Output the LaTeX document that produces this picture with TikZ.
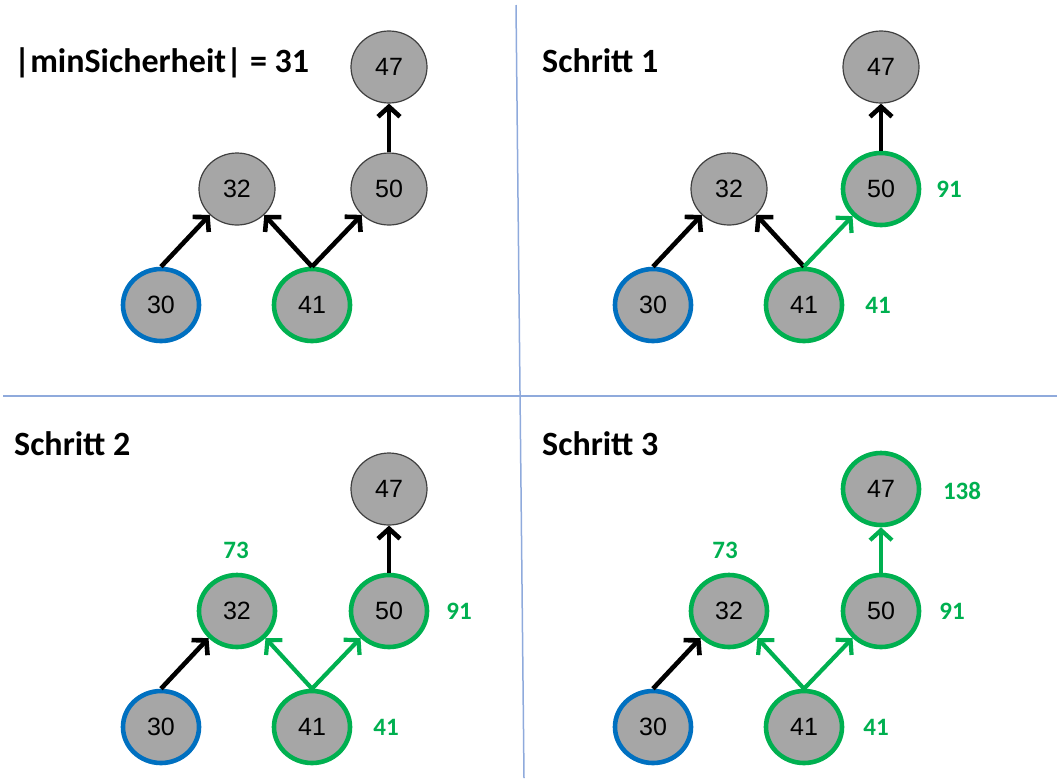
\documentclass[tikz,border=0pt]{standalone}
\usepackage{fontspec}
\setmainfont{Liberation Sans}
\newfontfamily\labelfont{Carlito}
\usetikzlibrary{arrows.meta,shapes.geometric}
\definecolor{knotgrau}{RGB}{166,166,166}
\definecolor{gruen}{RGB}{0,176,80}
\definecolor{blau}{RGB}{0,112,192}
\definecolor{linie}{RGB}{143,170,220}
\begin{document}
\begin{tikzpicture}[x=1pt,y=-1pt,
    knoten/.style={ellipse,draw=black!75,line width=1.2pt,fill=knotgrau,
        minimum width=76pt,minimum height=72pt,inner sep=0pt,
        font=\fontsize{25}{25}\selectfont},
    start/.style={knoten,draw=blau,line width=4.6pt},
    besucht/.style={knoten,draw=gruen,line width=4.6pt},
    kante/.style={black,line width=4.6pt,-{Straight Barb[length=10pt,width=22pt]}},
    gkante/.style={gruen,line width=4.2pt,-{Straight Barb[length=10pt,width=22pt]}},
    wert/.style={text=gruen,font=\labelfont\bfseries\fontsize{25}{25}\selectfont},
    titel/.style={anchor=base west,inner sep=0pt,font=\labelfont\bfseries\fontsize{34}{34}\selectfont}]
    \useasboundingbox (0,0) rectangle (1057,780);
    \draw[linie,line width=1.5pt] (516,5) -- (524,778);
    \draw[linie,line width=1.5pt] (3,396) -- (1057,396);

    % |minSicherheit|
    \node[titel] (t1) at (14,72) {|minSicherheit| = 31};
    \node[knoten] (a47) at (389,67) {47};
    \node[knoten] (a50) at (389,189) {50};
    \node[knoten] (a32) at (237,189) {32};
    \node[start] (a30) at (161,305) {30};
    \node[besucht] (a41) at (312,305) {41};
    \draw[kante] (a30.north) -- (a32.south west);
    \draw[kante] (a41.north) -- (a32.south east);
    \draw[kante] (a41.north) -- (a50.south west);
    \draw[kante] (a50.north) -- (a47.south);

    % Schritt 1
    \node[titel] (t2) at (542,72) {Schritt 1};
    \begin{scope}[shift={(492,0)}]
    \node[knoten] (b47) at (389,67) {47};
    \node[besucht] (b50) at (389,189) {50};
    \node[knoten] (b32) at (237,189) {32};
    \node[start] (b30) at (161,305) {30};
    \node[besucht] (b41) at (312,305) {41};
    \draw[kante] (b30.north) -- (b32.south west);
    \draw[kante] (b41.north) -- (b32.south east);
    \draw[gkante] (b41.north) -- (b50.south west);
    \draw[kante] (b50.north) -- (b47.south);
    \node[wert] (b91) at (457,189) {91};
    \node[wert] (b41w) at (386,305) {41};
    \end{scope}

    % Schritt 2
    \node[titel] (t3) at (14,455) {Schritt 2};
    \begin{scope}[shift={(0,422)}]
    \node[knoten] (c47) at (389,67) {47};
    \node[besucht] (c50) at (389,189) {50};
    \node[besucht] (c32) at (237,189) {32};
    \node[start] (c30) at (161,305) {30};
    \node[besucht] (c41) at (312,305) {41};
    \draw[kante] (c30.north) -- (c32.south west);
    \draw[gkante] (c41.north) -- (c32.south east);
    \draw[gkante] (c41.north) -- (c50.south west);
    \draw[kante] (c50.north) -- (c47.south);
    \node[wert] (c73) at (236,128) {73};
    \node[wert] (c91) at (459,189) {91};
    \node[wert] (c41w) at (386,305) {41};
    \end{scope}

    % Schritt 3
    \node[titel] (t4) at (542,455) {Schritt 3};
    \begin{scope}[shift={(492,422)}]
    \node[besucht] (d47) at (389,67) {47};
    \node[besucht] (d50) at (389,189) {50};
    \node[besucht] (d32) at (237,189) {32};
    \node[start] (d30) at (161,305) {30};
    \node[besucht] (d41) at (312,305) {41};
    \draw[kante] (d30.north) -- (d32.south west);
    \draw[gkante] (d41.north) -- (d32.south east);
    \draw[gkante] (d41.north) -- (d50.south west);
    \draw[gkante] (d50.north) -- (d47.south);
    \node[wert] (d138) at (470,69) {138};
    \node[wert] (d73) at (233,128) {73};
    \node[wert] (d91) at (460,189) {91};
    \node[wert] (d41w) at (384,305) {41};
    \end{scope}
\end{tikzpicture}
\end{document}
